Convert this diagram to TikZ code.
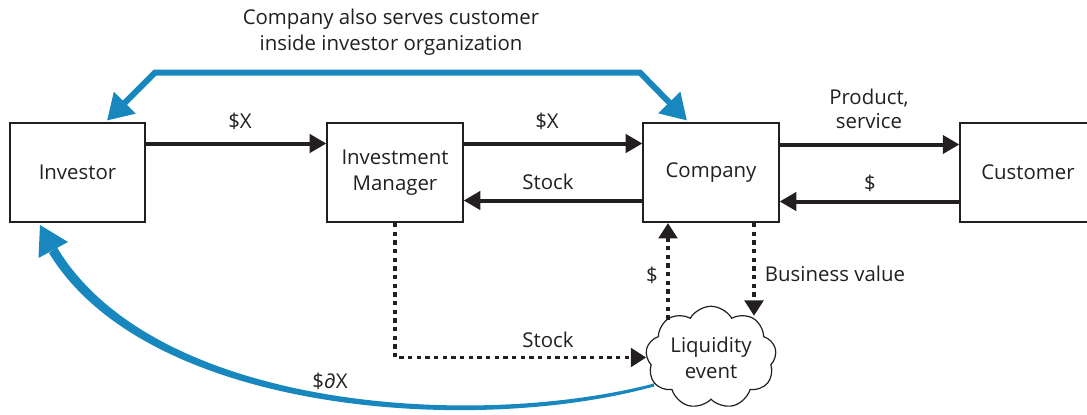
\documentclass[tikz,border=0pt]{standalone}
\usepackage{fontspec}
\setmainfont{Open Sans}
\usetikzlibrary{arrows.meta,shapes.symbols,calc}
\definecolor{bl}{RGB}{24,135,190}
\definecolor{ink}{RGB}{35,31,32}
\begin{document}
\begin{tikzpicture}[x=0.75pt,y=-0.75pt,
  txt/.style={font=\fontsize{15.3}{19.5}\selectfont, text=ink, inner sep=0pt, align=center},
  box/.style={txt, draw=ink, line width=1.4pt, minimum width=101.5pt, minimum height=74.5pt},
  arr/.style={draw=ink, line width=3pt, -{Triangle[length=12.5pt,width=13.5pt]}},
  dotarr/.style={draw=ink, line width=2.5pt, dash pattern=on 3.2pt off 3.3pt, -{Triangle[length=11.5pt,width=14pt]}},
  bluearr/.style={draw=bl, line width=4.5pt, line join=miter, {Triangle[length=19pt,width=22pt]}-{Triangle[length=19pt,width=22pt]}},
  liqcloud/.style={txt, cloud, cloud puffs=9, cloud puff arc=120, aspect=1.35, draw=ink, line width=0.9pt, minimum width=98pt, minimum height=74pt}
]
\useasboundingbox (0,0) rectangle (1087,414);

% boxes
\node[box] (inv) at (77.5,172.5) {Investor};
\node[box] (im) at (395,172.5) {Investment\\Manager};
\node[box] (co) at (711,172.5) {Company};
\node[box] (cu) at (1028,172.5) {Customer};
\node[liqcloud] (liq) at (711,357.5) {Liquidity\\event};

% solid arrows
\draw[arr] ([yshift=21.75pt]inv.east) -- ([yshift=21.75pt]im.west);
\draw[arr] ([yshift=21.75pt]im.east) -- ([yshift=21.75pt]co.west);
\draw[arr] ([yshift=-21pt]co.west) -- ([yshift=-21pt]im.east);
\draw[arr] ([yshift=21pt]co.east) -- ([yshift=21pt]cu.west);
\draw[arr] ([yshift=-21.75pt]cu.west) -- ([yshift=-21.75pt]co.east);

% labels on solid arrows
\node[txt] (l1) at (240,121) {\$X};
\node[txt] (l2) at (547,121) {\$X};
\node[txt] (l3) at (548,182) {Stock};
\node[txt, font=\fontsize{15.3}{18.5}\selectfont] (l4) at (869,109) {Product,\\service};
\node[txt] (l5) at (870,183) {\$};

% dotted arrows
\coordinate (upx) at ([xshift=-32.25pt]co.south);
\coordinate (downx) at ([xshift=32.25pt]co.south);
\draw[dotarr] (liq.140 -| upx) -- (upx);
\draw[dotarr] (downx) -- (liq.48 -| downx);
\draw[dotarr] (im.south) |- (liq.west);
\node[txt] (l6) at (652,275) {\$};
\node[txt] (l7) at (835,274) {Business value};
\node[txt] (l8) at (548,340) {Stock};

% blue top connector
\draw[bluearr] ([xshift=22.1pt,yshift=1pt]inv.north) -- ++(48,-48) -- ++(485,0) -- ([xshift=-18pt,yshift=1pt]co.north);
\node[txt] (note) at (391,32) {Company also serves customer\\inside investor organization};

% blue bottom tapered connector
\coordinate (dxtip) at (40,225);
\fill[bl] (654.3,386.4) .. controls (470.6,437) and (146.5,413) .. (49,253)
   -- (57,247.5) .. controls (153.5,408) and (469.4,431) .. (653.7,383.6) -- cycle;
\fill[bl] (dxtip) -- (38.5,258) -- (68,242) -- cycle;
\node[txt] (l9) at (330,381) {\$∂X};
\end{tikzpicture}
\end{document}
